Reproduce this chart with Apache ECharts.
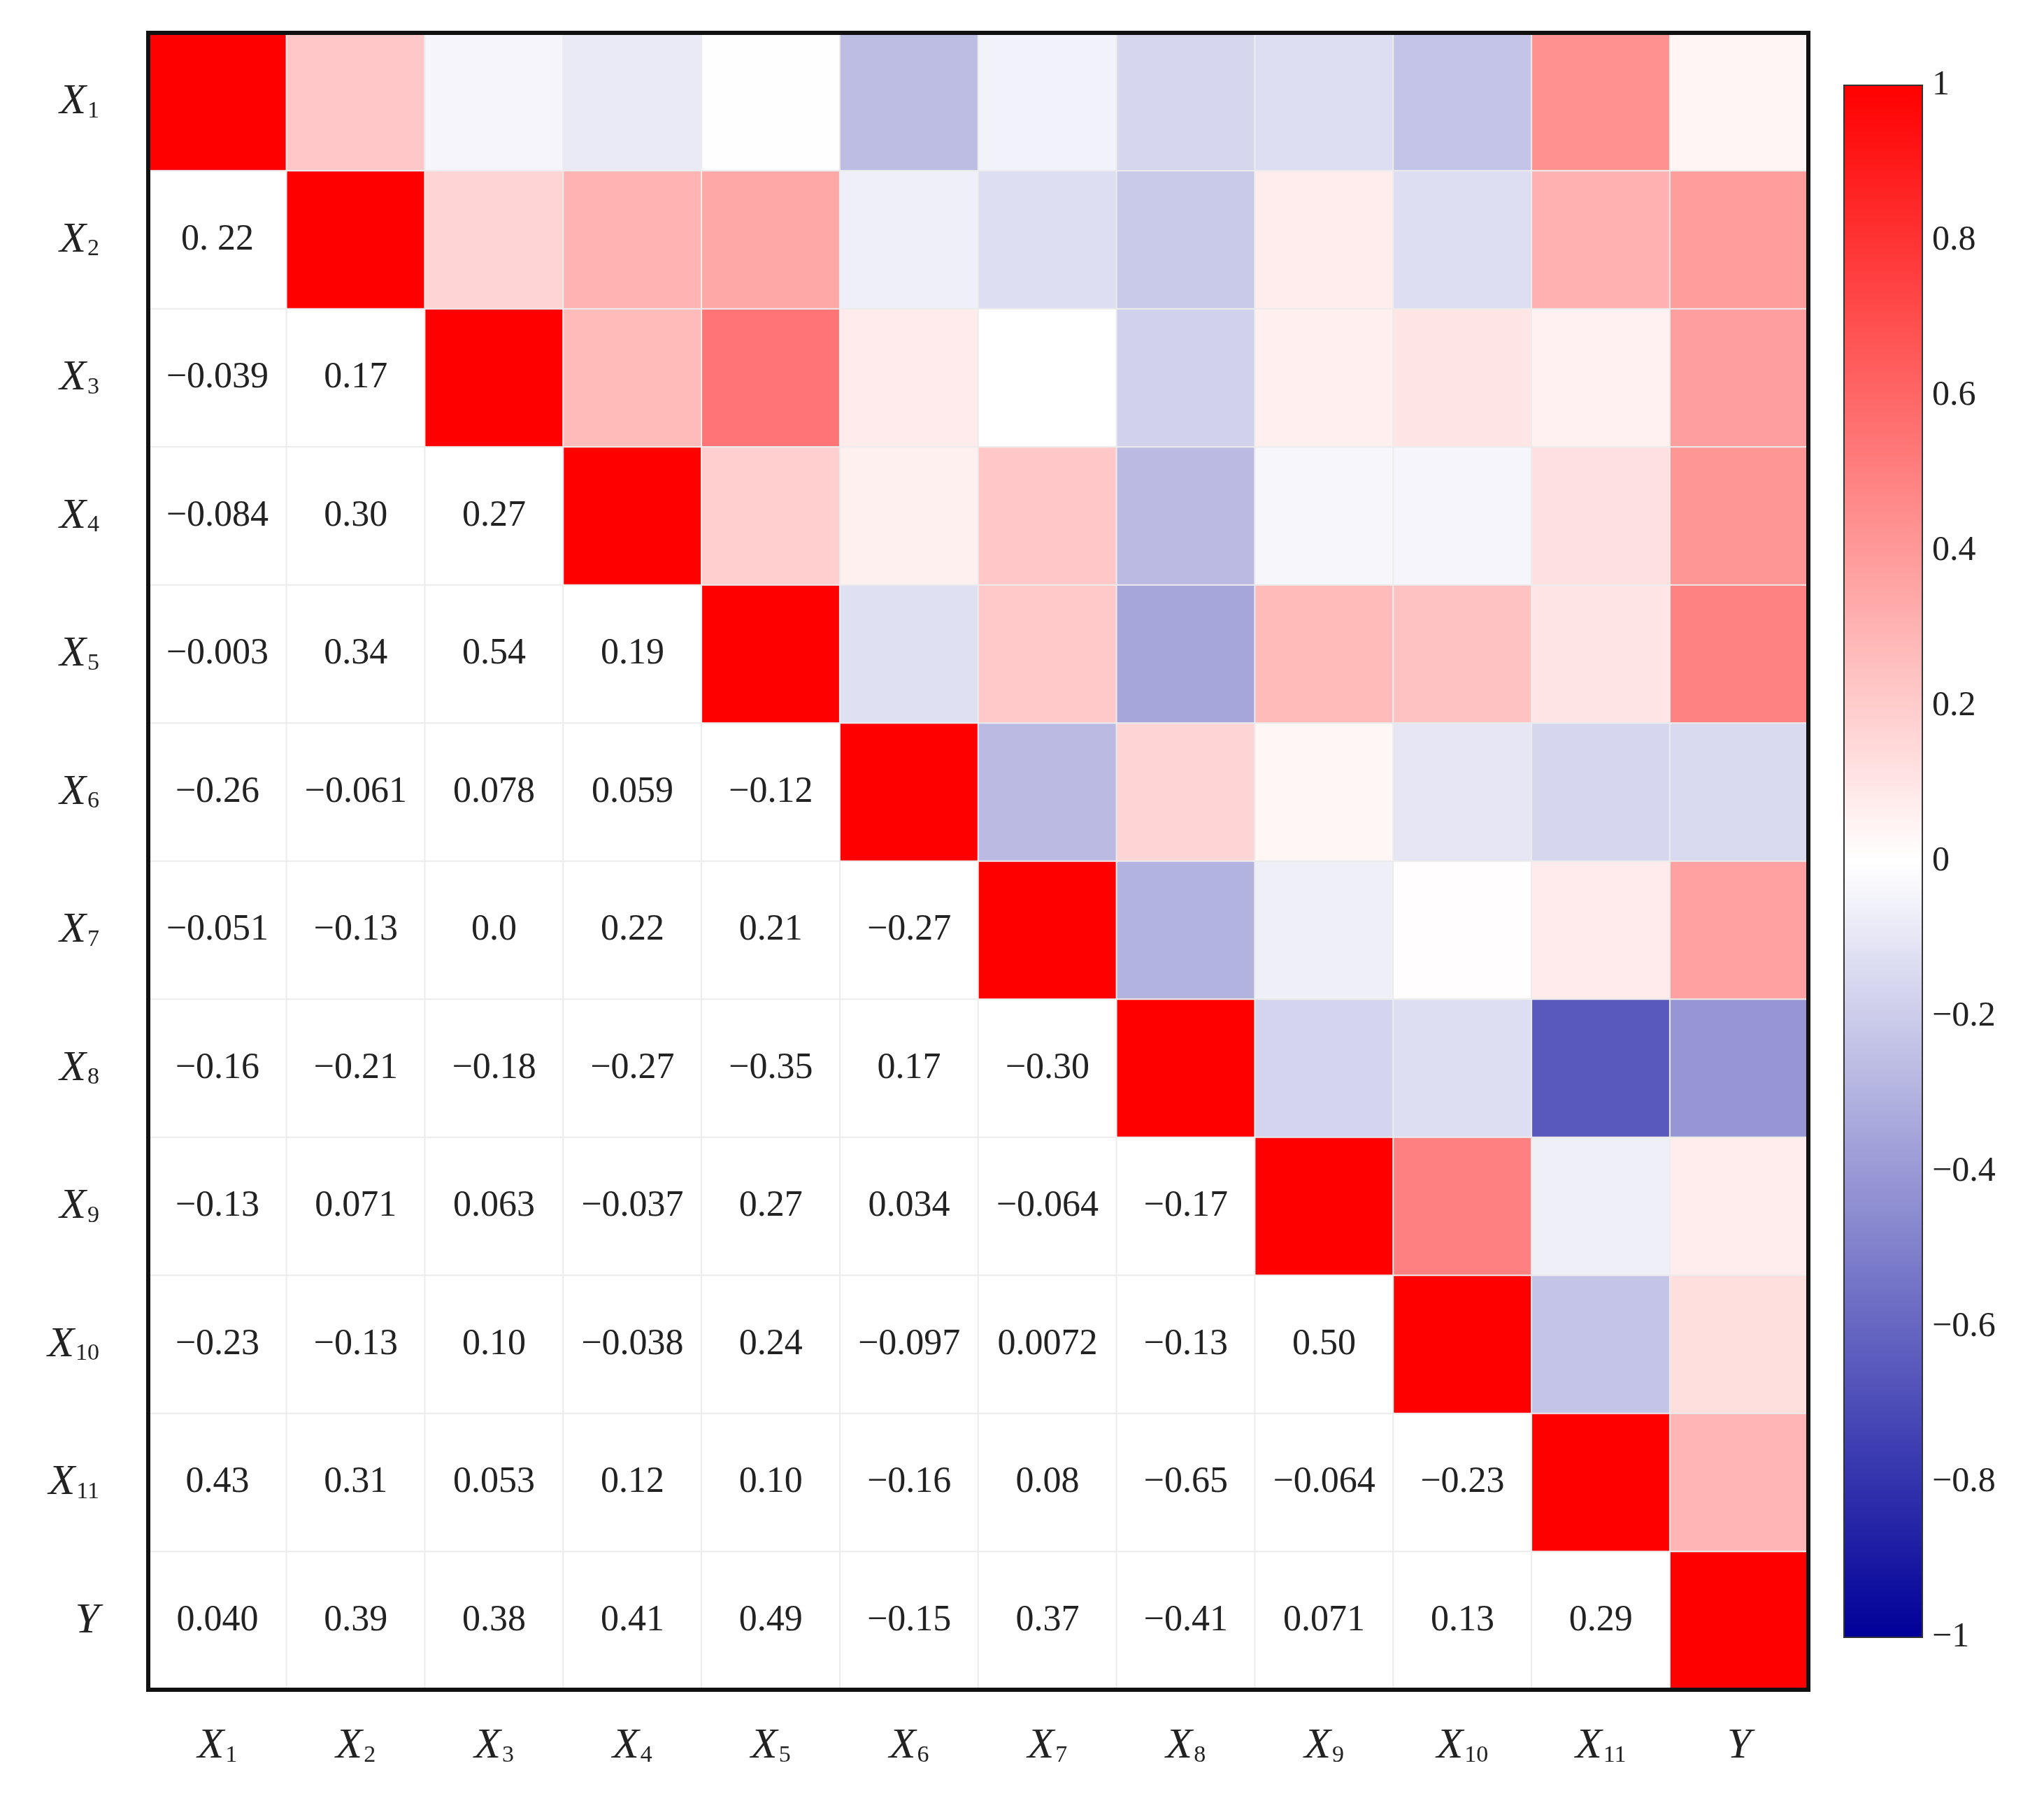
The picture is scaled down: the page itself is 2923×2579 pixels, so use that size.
<!DOCTYPE html>
<html><head><meta charset="utf-8">
<script src="https://cdn.jsdelivr.net/npm/echarts@6/dist/echarts.min.js"></script>
<style>html,body{margin:0;background:#fff}#c{width:2923px;height:2579px}</style>
</head><body><div id="c"></div>
<script>
const categories = ["X1","X2","X3","X4","X5","X6","X7","X8","X9","X10","X11","Y"];
const lowerRows = [
  [],
  ["0. 22"],
  ["-0.039","0.17"],
  ["-0.084","0.30","0.27"],
  ["-0.003","0.34","0.54","0.19"],
  ["-0.26","-0.061","0.078","0.059","-0.12"],
  ["-0.051","-0.13","0.0","0.22","0.21","-0.27"],
  ["-0.16","-0.21","-0.18","-0.27","-0.35","0.17","-0.30"],
  ["-0.13","0.071","0.063","-0.037","0.27","0.034","-0.064","-0.17"],
  ["-0.23","-0.13","0.10","-0.038","0.24","-0.097","0.0072","-0.13","0.50"],
  ["0.43","0.31","0.053","0.12","0.10","-0.16","0.08","-0.65","-0.064","-0.23"],
  ["0.040","0.39","0.38","0.41","0.49","-0.15","0.37","-0.41","0.071","0.13","0.29"]
];
const colorbarTicks = [-1,-0.8,-0.6,-0.4,-0.2,0,0.2,0.4,0.6,0.8,1];

const n = categories.length;
const val = (r,c) => parseFloat(lowerRows[r][c].replace(' ',''));
const data = [];
for (let r=0;r<n;r++) for (let c=0;c<n;c++) {
  if (r===c) data.push([c,r,1,'']);
  else if (c>r) data.push([c,r,val(c,r),'']);
  else data.push([c,r,0,lowerRows[r][c].replace(/-/g,'\u2212')]);
}
const fmtCat = v => {
  if (v==='Y') return '{i|Y}';
  return '{i|X}{s|'+v.slice(1)+'}';
};
const rich = {
  i:{fontFamily:'Liberation Serif',fontStyle:'italic',fontSize:62,color:'#222'},
  s:{fontFamily:'Liberation Serif',fontSize:34,color:'#222',padding:[26,0,0,2]}
};
const chart = echarts.init(document.getElementById('c'));
chart.setOption({
  animation:false,
  grid:[{left:212,top:47,width:2374,height:2370},
        {left:2637,top:122,width:112,height:2220}],
  xAxis:[{type:'category',data:categories,gridIndex:0,axisLine:{show:false},axisTick:{show:false},
          axisLabel:{formatter:fmtCat,rich,margin:50}},
         {type:'value',gridIndex:1,show:false}],
  yAxis:[{type:'category',data:categories,inverse:true,gridIndex:0,axisLine:{show:false},axisTick:{show:false},
          axisLabel:{formatter:fmtCat,rich,margin:70}},
         {type:'value',gridIndex:1,min:-1,max:1,interval:0.2,position:'right',
          axisLine:{show:true,lineStyle:{color:'#333',width:2}},
          axisTick:{show:true,length:22,lineStyle:{color:'#333',width:2}},
          splitLine:{show:false},
          axisLabel:{margin:14,fontFamily:'Liberation Serif',fontSize:50,color:'#222',
            formatter:v=>{const r=Math.round(v*10)/10;return (r<0?'\u2212':'')+String(Math.abs(r));}}}],
  visualMap:{type:'continuous',min:-1,max:1,dimension:2,seriesIndex:0,calculable:false,
    left:2637,top:122,itemWidth:112,itemHeight:2220,text:['',''],showLabel:false,
    padding:0,inRange:{color:['#000099','#ffffff','#ff0000']}},
  series:[{type:'heatmap',xAxisIndex:0,yAxisIndex:0,data,
    itemStyle:{borderColor:'#ececec',borderWidth:2},
    label:{show:true,formatter:p=>p.data[3],fontFamily:'Liberation Serif',fontSize:52,color:'#222'}}],
  graphic:[{type:'rect',shape:{x:212,y:47,width:2374,height:2370},
    style:{fill:'none',stroke:'#111',lineWidth:6},z:100},
    {type:'rect',shape:{x:2637,y:122,width:112,height:2220},
    style:{fill:'none',stroke:'#333',lineWidth:2},z:100}]
});
</script></body></html>
